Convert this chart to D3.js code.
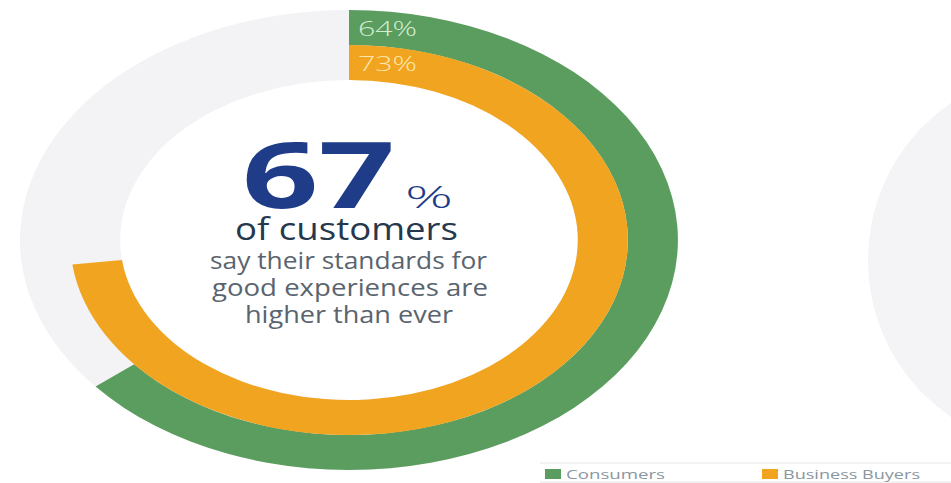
<!DOCTYPE html>
<html>
<head>
<meta charset="utf-8">
<script src="https://cdn.jsdelivr.net/npm/d3@7"></script>
<style>
  body { margin: 0; background: #fff; }
  svg { display: block; }
</style>
</head>
<body>
<div id="wrapper"></div>
<script>
// data
const series = ["Consumers", "Business Buyers"];
const values = [64, 73];
const colors = ["#5b9d5f", "#f0a41f"];
const labelColors = ["#d3ecd2", "#fde7ad"];
const headline = "67";
const subLines = ["say their standards for", "good experiences are", "higher than ever"];

const width = 951;
const height = 483;
const sx = 1.43; // the picture is stretched sideways
const font = "'Open Sans', sans-serif";

const svg = d3.select("#wrapper")
              .append("svg")
              .attr("width", width)
              .attr("height", height);

const angle = d3.scaleLinear().domain([0, 100]).range([0, 2 * Math.PI]);

// ring radii, outer ring first
const rings = [{inner: 195, outer: 230}, {inner: 160, outer: 195}];

const donut = svg.append("g")
                 .attr("transform", "translate(349,240) scale(" + sx + ",1)");

// grey track behind both rings
donut.append("path")
     .attr("d", d3.arc().innerRadius(160).outerRadius(230).startAngle(0).endAngle(angle(100))())
     .style("fill", "#f3f3f5");

donut.selectAll(".ring")
     .data(values)
     .enter()
     .append("path")
     .attr("class", "ring")
     .attr("d", (d, i) => d3.arc()
                            .innerRadius(rings[i].inner)
                            .outerRadius(rings[i].outer)
                            .startAngle(0)
                            .endAngle(angle(d))())
     .style("fill", (d, i) => colors[i]);

// percentage labels at the start of each ring
svg.selectAll(".pct")
   .data(values)
   .enter()
   .append("text")
   .attr("class", "pct")
   .attr("x", 358)
   .attr("y", (d, i) => 240 - (rings[i].inner + rings[i].outer) / 2 + 8.5)
   .attr("textLength", 59)
   .attr("lengthAdjust", "spacingAndGlyphs")
   .style("font-family", font)
   .style("font-weight", 300)
   .style("font-size", "21px")
   .style("fill", (d, i) => labelColors[i])
   .text(d => d + "%");

// next chart's grey disc peeking in from the right
svg.append("path")
   .attr("transform", "translate(1058,260)")
   .attr("d", d3.arc().innerRadius(0).outerRadius(190).startAngle(0).endAngle(angle(100))())
   .style("fill", "#f4f4f6");

// centre text
svg.append("text")
   .attr("x", 242)
   .attr("y", 208)
   .attr("textLength", 153)
   .attr("lengthAdjust", "spacingAndGlyphs")
   .style("font-family", font)
   .style("font-weight", 700)
   .style("font-size", "91px")
   .style("fill", "#1f3c88")
   .text(headline);

svg.append("text")
   .attr("x", 405)
   .attr("y", 208)
   .attr("textLength", 48)
   .attr("lengthAdjust", "spacingAndGlyphs")
   .style("font-family", font)
   .style("font-weight", 300)
   .style("font-size", "32px")
   .style("fill", "#1f3c88")
   .text("%");

svg.append("text")
   .attr("x", 235)
   .attr("y", 240)
   .attr("textLength", 223)
   .attr("lengthAdjust", "spacingAndGlyphs")
   .style("font-family", font)
   .style("font-size", "31px")
   .style("fill", "#26384d")
   .text("of customers");

const subX = [210, 212, 245];
const subW = [277, 276, 208];
svg.selectAll(".sub")
   .data(subLines)
   .enter()
   .append("text")
   .attr("class", "sub")
   .attr("x", (d, i) => subX[i])
   .attr("y", (d, i) => 269 + i * 27)
   .attr("textLength", (d, i) => subW[i])
   .attr("lengthAdjust", "spacingAndGlyphs")
   .style("font-family", font)
   .style("font-size", "23px")
   .style("fill", "#5a646e")
   .text(d => d);

// legend
const legend = svg.append("g");
legend.selectAll("line")
      .data([463, 482])
      .enter()
      .append("line")
      .attr("x1", 540).attr("x2", width)
      .attr("y1", d => d).attr("y2", d => d)
      .style("stroke", "#e6e6e6");

const legX = [545, 762];
const legW = [99, 137];
const item = legend.selectAll(".legend-item")
                   .data(series)
                   .enter()
                   .append("g")
                   .attr("class", "legend-item")
                   .attr("transform", (d, i) => "translate(" + legX[i] + ",469)");

item.append("rect")
    .attr("width", 16)
    .attr("height", 10)
    .style("fill", (d, i) => colors[i]);

item.append("text")
    .attr("x", 21)
    .attr("y", 9.5)
    .attr("textLength", (d, i) => legW[i])
    .attr("lengthAdjust", "spacingAndGlyphs")
    .style("font-family", font)
    .style("font-size", "12.5px")
    .style("fill", "#8a96a0")
    .text(d => d);
</script>
</body>
</html>
